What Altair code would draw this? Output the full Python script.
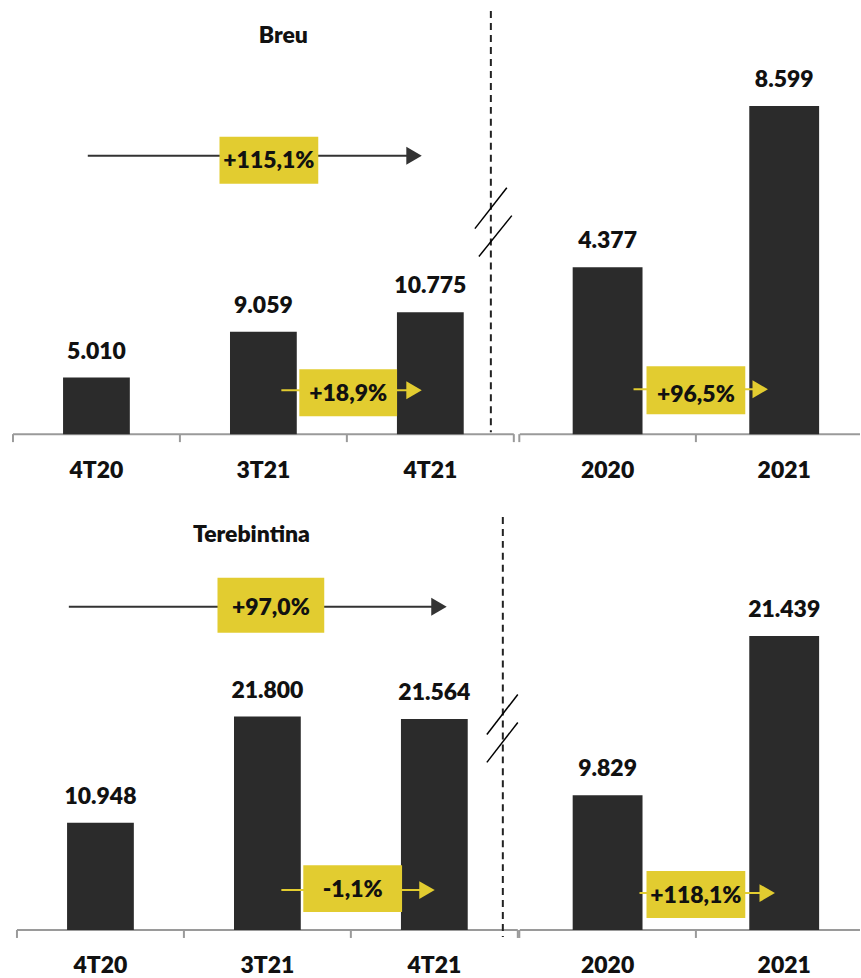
import altair as alt
import pandas as pd

# ---------------- data ----------------
quarters = ["4T20", "3T21", "4T21"]
years = ["2020", "2021"]

breu_quarter_values = [5010, 9059, 10775]
breu_year_values = [4377, 8599]
tereb_quarter_values = [10948, 21800, 21564]
tereb_year_values = [9829, 21439]

breu_changes = ["+115,1%", "+18,9%", "+96,5%"]     # 4T21 vs 4T20, 4T21 vs 3T21, 2021 vs 2020
tereb_changes = ["+97,0%", "-1,1%", "+118,1%"]

titles = ["Breu", "Terebintina"]

# ---------------- style ----------------
FONT = "Lato"
FW = 800
BAR = "#2b2b2b"
YEL = "#e2cc30"
TXT = "#111111"
AXC = "#9a9a9a"
DARK = "#333333"
FS = 23
TRI = 320

ONE = pd.DataFrame({"k": [0]})


def fmt(v):
    return f"{v:,}".replace(",", ".")


def rule(x1, x2, y1, y2, color, width, dash=None):
    kw = dict(color=color, strokeWidth=width)
    if dash:
        kw["strokeDash"] = dash
    return alt.Chart(ONE).mark_rule(**kw).encode(
        x=alt.value(x1), x2=alt.value(x2), y=alt.value(y1), y2=alt.value(y2))


def rect(x1, x2, y1, y2, color):
    return alt.Chart(ONE).mark_rect(color=color).encode(
        x=alt.value(x1), x2=alt.value(x2), y=alt.value(y1), y2=alt.value(y2))


def tri(x, y, color, size=TRI):
    return alt.Chart(ONE).mark_point(shape="triangle-right", filled=True, size=size,
                                     color=color, opacity=1, strokeWidth=0).encode(
        x=alt.value(x), y=alt.value(y))


def text(x, y, s):
    return alt.Chart(ONE).mark_text(font=FONT, fontSize=FS, fontWeight=FW, color=TXT,
                                    align="center", baseline="alphabetic").encode(
        x=alt.value(x), y=alt.value(y), text=alt.value(s))


def bars_layer(cats, vals, ymax, pi, po, align):
    df = pd.DataFrame({"cat": cats, "val": vals, "lab": [fmt(v) for v in vals]})
    x = alt.X("cat:N", sort=cats, title=None,
              scale=alt.Scale(paddingInner=pi, paddingOuter=po, align=align),
              axis=alt.Axis(domain=False, ticks=False, tickSize=0, grid=False, labelAngle=0,
                            labelPadding=43, labelBaseline="alphabetic", labelFont=FONT,
                            labelFontSize=FS, labelFontWeight=FW, labelColor=TXT))
    y = alt.Y("val:Q", scale=alt.Scale(domain=[0, ymax], nice=False, zero=True), axis=None)
    bars = alt.Chart(df).mark_bar(color=BAR).encode(x=x, y=y)
    labs = alt.Chart(df).mark_text(font=FONT, fontSize=FS, fontWeight=FW, color=TXT,
                                   baseline="alphabetic", dy=-19).encode(x=x, y=y, text="lab:N")
    return [bars, labs]


def axis_layers(x0, x1, y, ticks):
    out = [rule(x0, x1, y, y, AXC, 2)]
    for t in ticks:
        out.append(rule(t, t, y, y + 8, AXC, 2))
    return out


def arrow(x1, x2, xt, y, color, width):
    return [rule(x1, x2, y, y, color, width), tri(xt, y, color)]


def label_box(x1, x2, y1, y2, s, ybase):
    return [rect(x1, x2, y1, y2, YEL), text((x1 + x2) / 2, ybase, s)]


LW, RW = 502, 341
H1, H2 = 434, 426

# left (quarterly) band geometry
L_PI, L_PO = 0.6, 0.3
l_step = LW / 3
# right (annual) band geometry
R_PI, R_PO, R_AL = 0.6045, 0.2655, 0.564
r_step = RW / (2 - R_PI + 2 * R_PO)
r_first = (RW - r_step * (2 - R_PI)) * R_AL - R_PI * r_step / 2

# ---------------- top-left: Breu quarterly ----------------
tl = alt.layer(
    *axis_layers(0, LW, H1, [k * l_step for k in range(4)]),
    *bars_layer(quarters, breu_quarter_values, 38300, L_PI, L_PO, 0.5),
    text(271, 42, titles[0]),
    *arrow(75, 398, 402, 155, DARK, 2),
    *label_box(207, 306, 136, 183, breu_changes[0], 167),
    *arrow(269, 398, 402, 390, YEL, 2),
    *label_box(287, 385, 369, 416, breu_changes[1], 401),
    rule(479, 479, 10, 432, "#222222", 2, [7, 5]),
    rule(463, 495, 228, 187, "#000000", 1.5),
    rule(467, 500, 256, 215, "#000000", 1.5),
).properties(width=LW, height=H1)

# ---------------- top-right: Breu annual ----------------
tr = alt.layer(
    *axis_layers(0, RW, H1, [r_first + k * r_step for k in range(2)]),
    *bars_layer(years, breu_year_values, 11350, R_PI, R_PO, R_AL),
    *arrow(114, 236, 241, 389, YEL, 2),
    *label_box(127, 226, 366, 414, breu_changes[2], 402),
).properties(width=RW, height=H1)

# ---------------- bottom-left: Terebintina quarterly ----------------
bl = alt.layer(
    *axis_layers(4, LW + 4, H2, [4 + k * l_step for k in range(4)]),
    *bars_layer(quarters, tereb_quarter_values, 43425, L_PI, L_PO, 0.54),
    text(239, 37, titles[1]),
    *arrow(56, 423, 427, 102, DARK, 2),
    *label_box(205, 312, 73, 128, tereb_changes[0], 110),
    *arrow(269, 410, 415, 386, YEL, 2),
    *label_box(291, 390, 361, 408, tereb_changes[1], 393),
    rule(491, 491, 12, 433, "#222222", 2, [7, 5]),
    rule(475, 506, 230, 190, "#000000", 1.5),
    rule(475, 506, 258, 218, "#000000", 1.5),
).properties(width=LW, height=H2)

# ---------------- bottom-right: Terebintina annual ----------------
br = alt.layer(
    *axis_layers(0, RW, H2, [r_first + k * r_step for k in range(2)]),
    *bars_layer(years, tereb_year_values, 30982, R_PI, R_PO, R_AL),
    *arrow(120, 243, 248, 389, YEL, 2),
    *label_box(127, 226, 367, 414, tereb_changes[2], 399),
).properties(width=RW, height=H2)

chart = alt.concat(
    tl, tr, bl, br, columns=2,
    spacing={"row": 71, "column": 6}, bounds="flush", align="each",
).properties(
    padding={"left": 12, "top": 0, "right": 0, "bottom": 0},
    background="white",
).configure_view(strokeWidth=0)

chart.save("out.html", embed_options={"renderer": "svg", "actions": False})
